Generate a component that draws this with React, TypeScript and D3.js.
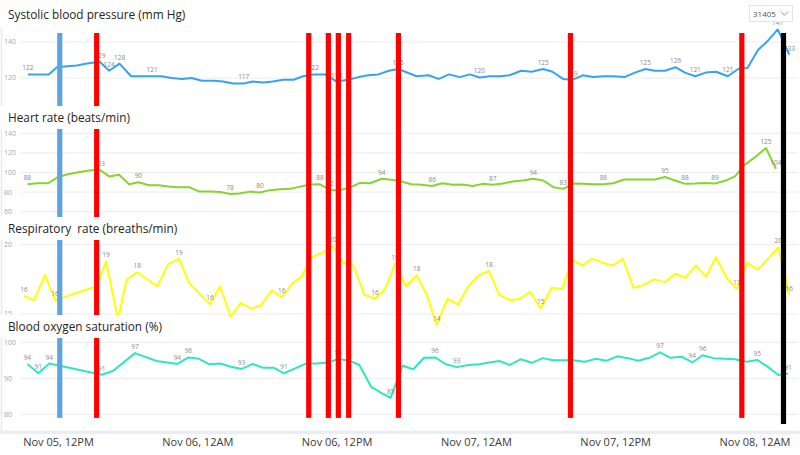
import React, { useRef, useEffect } from "react";
import * as d3 from "d3";

// all times are hours counted from Nov 05, 00:00
const sbpHours = [9.4, 10.2, 11.2, 11.9, 12.8, 13.6, 14.5, 15.6, 16.4, 17.3, 18.3, 19.2, 20.1, 20.9, 21.8, 22.7, 23.5, 24.4, 25.4, 26.2, 27.1, 28.0, 28.8, 29.7, 30.5, 31.4, 32.3, 33.1, 34.0, 35.0, 36.0, 37.0, 37.9, 38.7, 39.6, 40.5, 41.3, 42.9, 43.9, 44.8, 45.7, 46.6, 47.5, 48.3, 49.2, 50.1, 50.9, 51.9, 52.8, 53.8, 54.6, 55.5, 56.3, 57.2, 58.1, 59.0, 59.8, 60.8, 61.7, 62.6, 63.4, 64.3, 65.2, 66.0, 66.9, 67.8, 68.7, 69.7, 70.6, 71.4, 72.3, 73.2, 74.0, 75.0];
const sbpValues = [122, 122, 122, 126, 126.5, 127, 128, 129, 124, 128, 121, 121, 121, 121, 120, 119.5, 120, 118.5, 118.5, 118, 117, 117, 118, 117.5, 118, 119, 119, 121, 122, 122, 118, 119, 120.5, 121.5, 122, 124, 125, 121, 121.5, 119.5, 122, 120.5, 122, 120.3, 121, 121, 121.5, 124, 123.5, 125, 123.5, 119.5, 119, 121.5, 120.5, 121, 121, 120.5, 123, 125, 124, 124, 126, 123, 121, 123, 123.5, 121, 125, 125.5, 135.5, 141, 147, 133];
const sbpLabelIdx = [0, 7, 8, 9, 12, 21, 28, 30, 36, 43, 49, 52, 59, 62, 64, 67, 72, 73];
const sbpTicks = [120, 140];

const hrHours = [9.36, 10.22, 11.16, 11.94, 12.75, 13.61, 14.52, 15.56, 16.42, 17.26, 18.12, 18.92, 19.84, 20.64, 21.5, 22.36, 23.31, 24.17, 25.09, 25.96, 26.82, 27.62, 28.54, 29.4, 30.26, 31.12, 31.99, 32.85, 33.71, 34.57, 35.43, 36.29, 37.15, 38.02, 38.88, 39.89, 40.75, 41.46, 42.47, 43.33, 44.24, 45.11, 46.0, 46.86, 47.73, 48.59, 49.45, 50.31, 51.17, 52.03, 52.95, 53.81, 54.67, 55.53, 56.39, 57.25, 58.11, 58.98, 59.84, 60.76, 61.71, 62.57, 63.43, 64.29, 65.16, 66.02, 66.88, 67.74, 68.6, 69.46, 70.32, 71.18, 72.13, 72.99, 73.85];
const hrValues = [88, 89, 89, 95, 98, 100, 101.7, 103, 96, 97.6, 88, 90, 87, 87, 85.6, 85, 85, 80.5, 80.5, 80, 78, 78.5, 80.5, 79.6, 82, 83, 83.3, 85.6, 87.7, 88, 82, 82, 84.6, 89.4, 89, 93.6, 92.5, 91, 88, 87.4, 86.3, 89, 87.4, 87.7, 86.3, 88.4, 87.4, 88.7, 90.8, 91.8, 93.6, 91.8, 85, 83.3, 88.7, 88.4, 88, 88, 89, 92.8, 92.8, 92.8, 92.8, 95.4, 91.8, 88.4, 88.7, 89.4, 88.7, 91.5, 96, 108, 116.4, 125, 103.8];
const hrLabelIdx = [0, 7, 11, 20, 23, 29, 30, 35, 40, 46, 50, 53, 57, 63, 65, 68, 73, 74];
const hrTicks = [60, 80, 100, 120, 140];

const rrHours = [9.07, 9.93, 10.88, 11.74, 15.33, 16.14, 17.17, 17.92, 18.83, 20.55, 21.5, 22.42, 23.31, 25.09, 25.96, 26.88, 27.74, 28.6, 29.46, 30.41, 31.27, 32.18, 32.99, 33.86, 34.72, 35.66, 36.58, 37.44, 38.39, 39.31, 40.17, 41.03, 41.98, 42.9, 43.76, 44.62, 45.54, 46.48, 47.35, 48.27, 49.13, 49.99, 50.94, 51.8, 52.66, 53.58, 54.53, 55.44, 56.25, 57.2, 58.03, 58.92, 59.79, 60.65, 61.56, 62.48, 63.34, 64.29, 65.15, 66.07, 66.94, 67.82, 68.69, 69.61, 70.47, 71.38, 72.28, 73.19, 74.05, 75.0];
const rrValues = [16.3, 16.0, 17.8, 16.0, 17.0, 18.8, 14.6, 17.5, 18.0, 17.0, 18.6, 19.0, 17.2, 15.7, 17.0, 14.8, 15.8, 15.4, 15.6, 16.7, 16.2, 17.2, 17.7, 19.1, 19.4, 19.9, 18.7, 18.5, 16.4, 16.1, 16.8, 18.6, 17.0, 17.8, 16.4, 14.2, 16.1, 15.7, 17.0, 17.8, 18.1, 16.4, 16.0, 16.1, 16.6, 15.4, 16.9, 16.8, 18.9, 18.5, 19.0, 18.7, 18.5, 19.0, 16.9, 17.1, 17.5, 17.3, 17.9, 17.6, 18.5, 17.7, 19.1, 17.6, 16.8, 18.7, 18.2, 19.0, 19.8, 16.4];
const rrLabelIdx = [0, 3, 5, 8, 11, 13, 20, 25, 29, 31, 33, 35, 40, 45, 64, 68, 69];
const rrTicks = [15, 20];

const spo2Hours = [9.36, 10.3, 11.25, 15.76, 16.76, 18.63, 20.5, 22.28, 23.23, 24.15, 25.03, 25.96, 26.88, 27.83, 28.77, 29.69, 30.61, 31.47, 33.36, 34.29, 35.29, 36.15, 37.16, 37.96, 38.96, 39.8, 40.66, 41.69, 42.61, 43.53, 44.48, 45.43, 46.35, 47.35, 48.29, 49.16, 50.02, 50.94, 51.86, 52.81, 53.76, 54.67, 55.53, 56.39, 57.34, 58.32, 59.27, 60.18, 61.08, 61.99, 62.94, 63.86, 64.78, 65.73, 66.64, 67.54, 68.45, 69.46, 70.32, 71.33, 72.24, 73.19, 74.05, 74.91];
const spo2Values = [94, 91.4, 94.1, 91, 92.1, 97, 94.8, 94, 95.8, 95.4, 93.9, 94.1, 93.2, 92.6, 94, 92.9, 92.9, 91.4, 94.1, 94.1, 94.4, 95.4, 94.8, 93.7, 87.7, 86, 84.6, 93.5, 92.5, 95.7, 95.8, 93.9, 93.1, 93.7, 93.9, 94.4, 94.8, 93.7, 95.3, 94.3, 95.6, 95, 95, 95, 94.6, 95.4, 94.9, 96.1, 95.6, 94.9, 95.7, 97.2, 95.7, 96, 94.4, 96.4, 95.6, 95.4, 95.3, 94.6, 95.1, 93.1, 90.9, 91.3];
const spo2LabelIdx = [0, 1, 2, 3, 5, 7, 8, 13, 17, 21, 26, 30, 32, 51, 54, 55, 60, 63];
const spo2Ticks = [80, 90, 100];

// event markers across all panels
const eventHours = [12.15, 15.33, 33.6, 35.29, 36.15, 37.04, 41.33, 56.15, 70.91, 74.5];
const eventKinds = ["blue", "red", "red", "red", "red", "red", "red", "red", "red", "black"];

const tickHours = [12, 24, 36, 48, 60, 72];
const tickLabels = ["Nov 05, 12PM", "Nov 06, 12AM", "Nov 06, 12PM", "Nov 07, 12AM", "Nov 07, 12PM", "Nov 08, 12AM"];

const FONT = "'Open Sans', 'Segoe UI', sans-serif";
const BASE = Date.UTC(2023, 10, 5);
const toDate = (h: number) => new Date(BASE + h * 3600 * 1000);

const width = 800;
const height = 455;

const App = () => {
  const svgRef = useRef<SVGSVGElement>(null);

  useEffect(() => {
    const svg = d3.select(svgRef.current);
    svg.selectAll("*").remove();

    const x = d3
      .scaleUtc()
      .domain([toDate(9), toDate(75.25)])
      .range([23.2, 792.2]);

    const panels = [
      { title: "Systolic blood pressure (mm Hg)", hours: sbpHours, values: sbpValues, labels: sbpLabelIdx, ticks: sbpTicks, y: d3.scaleLinear().domain([120, 140]).range([78, 42]), color: "#38a2f2", titleY: 18.5 },
      { title: "Heart rate (beats/min)", hours: hrHours, values: hrValues, labels: hrLabelIdx, ticks: hrTicks, y: d3.scaleLinear().domain([60, 140]).range([211.7, 133.3]), color: "#86d42e", titleY: 122 },
      { title: "Respiratory  rate (breaths/min)", hours: rrHours, values: rrValues, labels: rrLabelIdx, ticks: rrTicks, y: d3.scaleLinear().domain([15, 20]).range([314, 244.7]), color: "#ffff00", titleY: 233 },
      { title: "Blood oxygen saturation (%)", hours: spo2Hours, values: spo2Values, labels: spo2LabelIdx, ticks: spo2Ticks, y: d3.scaleLinear().domain([80, 100]).range([414.3, 342.3]), color: "#2ee6c4", titleY: 331 },
    ];

    // frame
    svg.append("rect").attr("width", width).attr("height", height).attr("fill", "#fff");
    svg.append("line").attr("x1", 1.5).attr("x2", 1.5).attr("y1", 28).attr("y2", 432)
      .attr("stroke", "#e6eaf1").attr("stroke-width", 1.5);
    svg.append("rect").attr("x", 0).attr("y", 430.5).attr("width", width).attr("height", 3.5).attr("fill", "#e9edf4");

    // grid + y tick labels
    panels.forEach(p => {
      const g = svg.append("g");
      p.ticks.forEach(t => {
        g.append("line").attr("x1", 20).attr("x2", 798).attr("y1", p.y(t)).attr("y2", p.y(t))
          .attr("stroke", "#ececec").attr("stroke-width", 1);
        g.append("text").attr("x", 4).attr("y", p.y(t)).attr("dy", "0.35em")
          .attr("font-family", FONT).attr("font-size", 7).attr("fill", "#a6a6a6").text(t);
      });
    });

    // lines and value labels
    panels.forEach(p => {
      const pts = p.hours.map((h, i) => ({ t: toDate(h), v: p.values[i] }));
      const line = d3.line<{ t: Date; v: number }>().x(d => x(d.t)).y(d => p.y(d.v));
      svg.append("path").datum(pts).attr("fill", "none").attr("stroke", p.color)
        .attr("stroke-width", 2).attr("stroke-linejoin", "round").attr("d", line);
      const lg = svg.append("g").attr("font-family", FONT).attr("font-size", 6.5)
        .attr("fill", "#8a8a8a").attr("text-anchor", "middle");
      p.labels.forEach(i => {
        lg.append("text").attr("x", x(pts[i].t)).attr("y", p.y(pts[i].v) - 4)
          .text(Math.round(pts[i].v));
      });
    });

    // event markers
    const colorOf: Record<string, string> = { blue: "#62a3dc", red: "#ff0000", black: "#000000" };
    const top = panels[0].y(145);
    eventHours.forEach((h, i) => {
      const bottom = panels[3].y(eventKinds[i] === "black" ? 77.3 : 79);
      svg.append("rect").attr("x", x(toDate(h)) - 2.6).attr("width", 5.2)
        .attr("y", top).attr("height", bottom - top).attr("fill", colorOf[eventKinds[i]]);
    });

    // panel titles with white backing
    panels.forEach(p => {
      const bg = svg.append("rect").attr("fill", "#fff");
      const txt = svg.append("text").attr("x", 8).attr("y", p.titleY)
        .attr("font-family", FONT).attr("font-size", 11.8).attr("fill", "#252423")
        .style("white-space", "pre").text(p.title);
      const w = (txt.node() as SVGTextElement).getComputedTextLength();
      bg.attr("x", 0).attr("y", p.titleY - 16).attr("width", w + 12).attr("height", 23);
    });

    // x axis
    const axis = d3.axisBottom(x)
      .tickValues(tickHours.map(toDate))
      .tickFormat((_, i) => tickLabels[i])
      .tickSize(0);
    const ax = svg.append("g").attr("transform", "translate(0,435)").call(axis);
    ax.select(".domain").remove();
    ax.selectAll("text").attr("font-family", FONT).attr("font-size", 11).attr("fill", "#3b3a39");

    // selector box in the corner
    svg.append("rect").attr("x", 749.5).attr("y", 5.5).attr("width", 43).attr("height", 16)
      .attr("fill", "#fff").attr("stroke", "#e3e3e3");
    svg.append("text").attr("x", 753).attr("y", 17).attr("font-family", FONT)
      .attr("font-size", 8).attr("fill", "#555").text("31405");
    svg.append("path").attr("d", "M781,11.8 L784.5,15.3 L788,11.8").attr("fill", "none")
      .attr("stroke", "#777").attr("stroke-width", 0.8);
  }, []);

  return (
    <svg ref={svgRef} width={width} height={height}
      style={{ position: "absolute", left: 0, top: 0 }}></svg>
  );
};

export default App;
